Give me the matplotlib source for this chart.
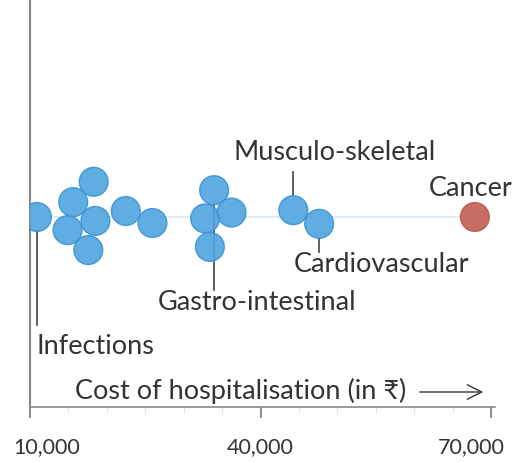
import numpy as np
import matplotlib.pyplot as plt
from matplotlib.transforms import ScaledTranslation

# Cost of hospitalisation per disease group (in rupees)
costs = [10900, 15000, 15700, 17500, 18200, 18500, 22500, 25900,
         33100, 33400, 34000, 35900, 44300, 47600, 67900]
names = ['Infections', '', '', '', '', '', '', '',
         '', '', 'Gastro-intestinal', '', 'Musculo-skeletal', 'Cardiovascular', 'Cancer']
ticks = [10000, 40000, 70000]
tick_labels = ['10,000', '40,000', '70,000']

plt.rcParams['font.family'] = ['Lato', 'DejaVu Sans']

W, H = 516, 463
fig = plt.figure(figsize=(W / 100, H / 100), dpi=100)
x0_px, x1_px, axis_px = 30, 495, 407
ax = fig.add_axes([x0_px / W, (H - axis_px) / H, (x1_px - x0_px) / W, axis_px / H])
xmin = 10000
sx = 461 / 60000  # px per rupee
xmax = xmin + (x1_px - x0_px) / sx
ax.set_xlim(xmin, xmax)
ax.set_ylim(0, axis_px)

# simple beeswarm layout in pixel space
base = axis_px - 217
D = 29.5
costs_a = np.array(costs, dtype=float)
tx = (costs_a - xmin) * sx
px = tx.copy()
py = np.array([((-1) ** i) * 0.3 * (i % 4) for i in range(len(costs))])
for it in range(600):
    for i in range(len(px)):
        for j in range(i + 1, len(px)):
            dx, dy = px[j] - px[i], py[j] - py[i]
            d = np.hypot(dx, dy)
            if d < D:
                if d < 1e-6:
                    dx, dy, d = 0.0, 1.0, 1.0
                push = (D - d) / 2
                px[i] -= dx / d * push
                py[i] -= dy / d * push
                px[j] += dx / d * push
                py[j] += dy / d * push
    px += (tx - px) * 0.35
    py *= 0.99
cx = xmin + px / sx
cy = base + py

# baseline
ax.plot([xmin, costs[-1]], [base, base], color='#e3ebf2', lw=1.5, zorder=1)

colors = ['#4fa4de'] * (len(costs) - 1) + ['#c25d51']
edges = ['#3a93d5'] * (len(costs) - 1) + ['#b85a4f']
ax.scatter(cx, cy, s=430, c=colors, edgecolors=edges, linewidths=1.0, alpha=0.9, zorder=3)

r = 14.5
txt = dict(fontsize=19.5, color='#333333')
lc = dict(color='#444444', lw=1.2, zorder=2)
for i, name in enumerate(names):
    if not name:
        continue
    x, y = cx[i], cy[i]
    if name == 'Infections':
        ax.plot([x, x], [y - r, axis_px - 325], **lc)
        ax.text(x, axis_px - 347, name, ha='left', va='center', **txt)
    elif name == 'Gastro-intestinal':
        ax.plot([x, x], [y - r, axis_px - 290], **lc)
        ax.text(x + 43 / sx, axis_px - 302, name, ha='center', va='center', **txt)
    elif name == 'Cardiovascular':
        ax.plot([x, x], [y - r, axis_px - 252], **lc)
        ax.text(x + 62 / sx, axis_px - 265, name, ha='center', va='center', **txt)
    elif name == 'Musculo-skeletal':
        ax.plot([x, x], [y + r, axis_px - 172], **lc)
        ax.text(x + 41 / sx, axis_px - 152, name, ha='center', va='center', **txt)
    elif name == 'Cancer':
        ax.text(x - 4 / sx, axis_px - 189, name, ha='center', va='center', **txt)

# axis title with arrow
ax.text(xmin + 45 / sx, axis_px - 391, 'Cost of hospitalisation (in ₹)', ha='left', va='center', **txt)
ax.annotate('', xy=(xmin + 456 / sx, axis_px - 392), xytext=(xmin + 387 / sx, axis_px - 392),
            arrowprops=dict(arrowstyle='->', color='#333333', lw=1.0, mutation_scale=26))

for s in ['top', 'right']:
    ax.spines[s].set_visible(False)
ax.spines['left'].set_color('#888888')
ax.spines['left'].set_linewidth(1.5)
ax.spines['bottom'].set_color('#888888')
ax.spines['bottom'].set_linewidth(1.2)
ax.set_yticks([])
ax.set_xticks(ticks)
ax.set_xticklabels(tick_labels)
ax.set_xticks(np.arange(15000, 70000, 5000), minor=True)
ax.tick_params(axis='x', which='major', length=8, width=1.2, color='#777777', direction='out',
               pad=14, labelsize=15.5, labelcolor='#333333')
ax.tick_params(axis='x', which='minor', length=4, width=0.8, color='#e3e3e3', direction='out')

# keep the end labels inside the figure
shifts = [17, 0, -20]
for lab, dxp in zip(ax.get_xticklabels(), shifts):
    lab.set_transform(lab.get_transform() + ScaledTranslation(dxp / 100, 0, fig.dpi_scale_trans))

fig.savefig('out.png', dpi=100)
